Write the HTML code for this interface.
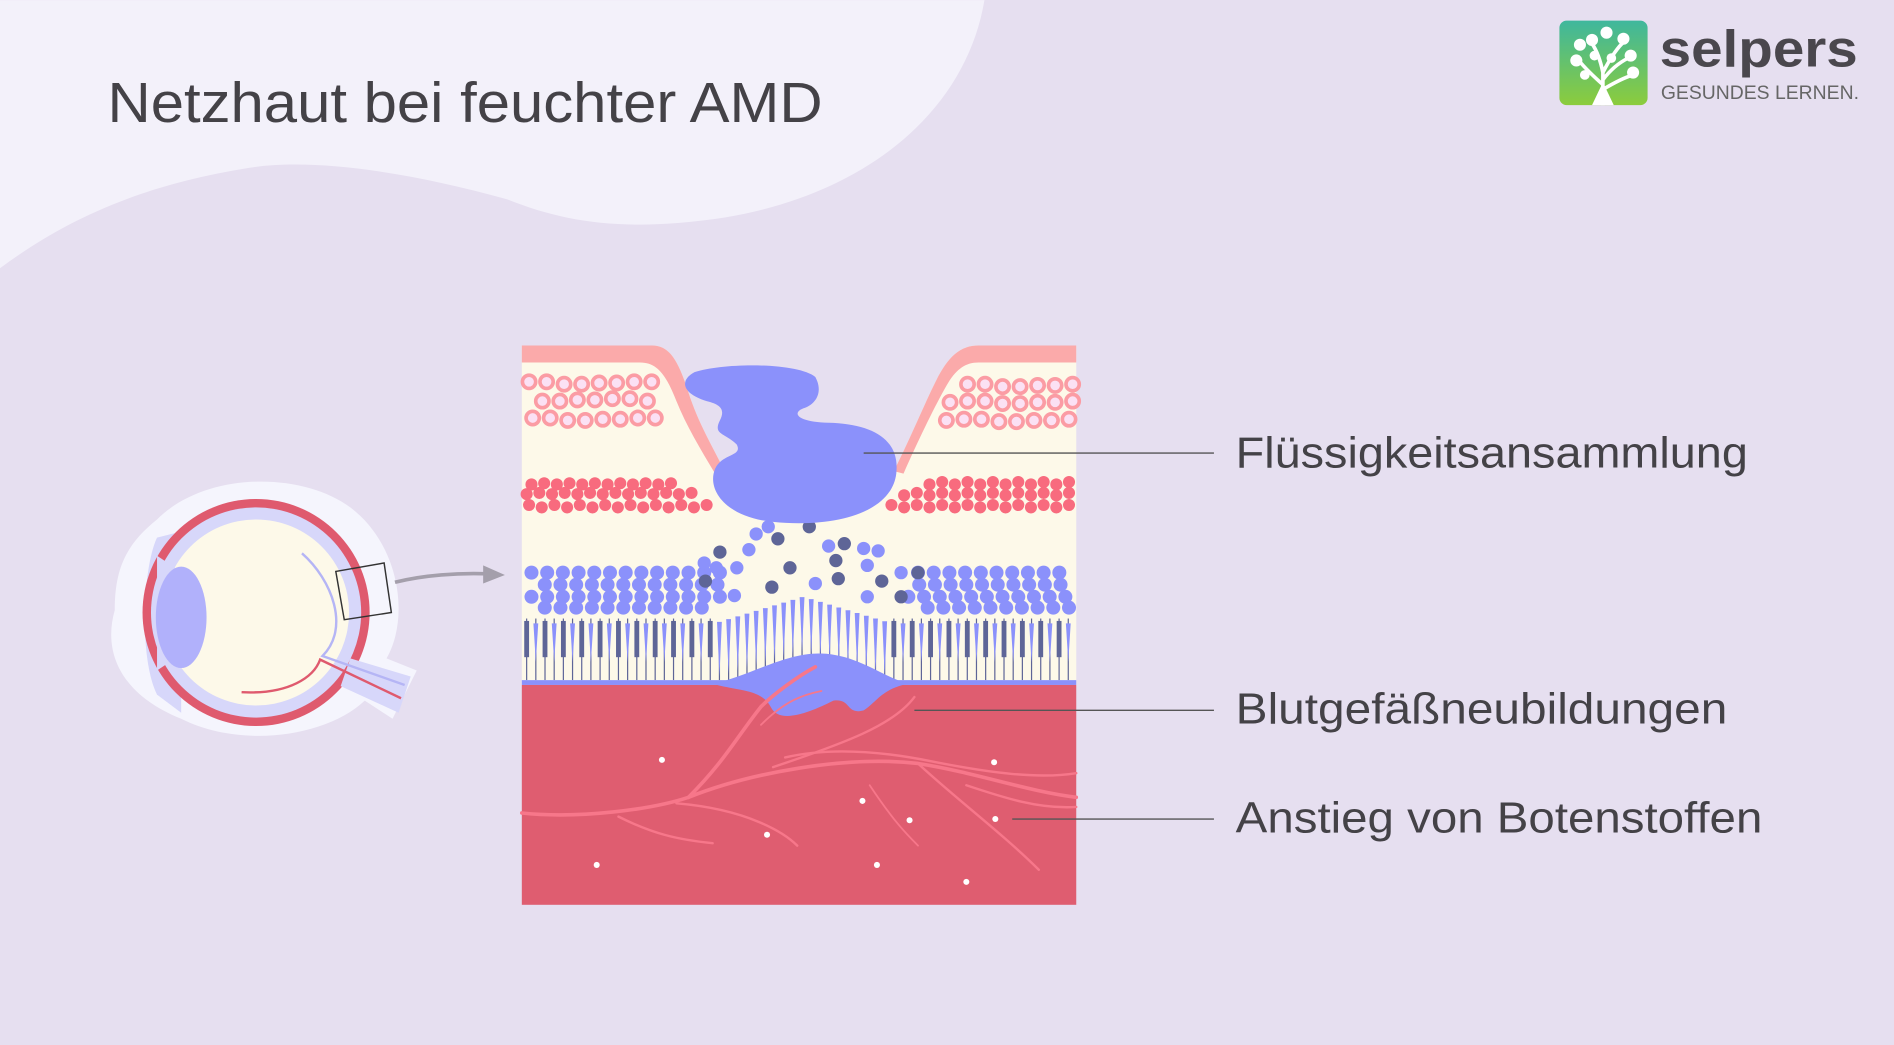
<!DOCTYPE html>
<html><head><meta charset="utf-8"><style>
html,body{margin:0;padding:0;background:#e6dff0;}
svg{display:block}
</style></head><body>
<svg id="s" width="1894" height="1045" viewBox="0 0 1568 865" xmlns="http://www.w3.org/2000/svg">
<rect width="1568" height="865" fill="#e6dff0"/>
<path d="M0 0 H815 C800 90 720 160 600 180 C520 192 470 185 420 165 C330 140 250 130 200 140 C110 155 50 185 0 222 Z" fill="#f3f1fa"/>
<text x="89" y="101" font-family="Liberation Sans, sans-serif" font-size="47" fill="#444247" textLength="592" lengthAdjust="spacingAndGlyphs">Netzhaut bei feuchter AMD</text>
<defs><linearGradient id="lg" x1="0" y1="0" x2="0" y2="1"><stop offset="0" stop-color="#3fb79d"/><stop offset="1" stop-color="#8ccc3c"/></linearGradient></defs>
<rect x="1291" y="17" width="73" height="70" rx="6" fill="url(#lg)"/>
<g stroke="#fff" stroke-width="3" fill="none"><path d="M1327 87 V60 M1327 70 C1318 62 1312 56 1307 50 M1327 66 C1333 58 1340 52 1348 48 M1327 60 C1325 50 1322 42 1318 36 M1327 60 C1333 48 1340 38 1345 34 M1327 74 C1337 68 1345 64 1352 62"/></g>
<g fill="#fff"><circle cx="1305" cy="50" r="5"/><circle cx="1308" cy="37" r="5"/><circle cx="1318" cy="33" r="5"/><circle cx="1330" cy="27" r="5"/><circle cx="1344" cy="32" r="5"/><circle cx="1350" cy="46" r="5"/><circle cx="1352" cy="60" r="5"/><circle cx="1320" cy="46" r="4"/><circle cx="1334" cy="48" r="4"/><circle cx="1312" cy="62" r="4"/><path d="M1318 87 L1327 68 L1336 87Z"/></g>
<text x="1374" y="55" font-family="Liberation Sans, sans-serif" font-weight="bold" font-size="43" fill="#4a474d" textLength="164" lengthAdjust="spacingAndGlyphs">selpers</text>
<text x="1375" y="82" font-family="Liberation Sans, sans-serif" font-size="16" fill="#666" textLength="164" lengthAdjust="spacingAndGlyphs">GESUNDES LERNEN.</text>
<path d="M130 430 C170 390 250 390 290 420 C330 450 340 510 320 545 L345 555 L325 595 L302 580 C270 610 200 620 150 595 C100 575 85 540 95 505 C95 470 105 450 130 430Z" fill="#f5f5fd"/>
<path d="M130 445 C118 470 115 545 130 575 L150 590 L150 440Z" fill="#d7d7fa"/>
<circle cx="212" cy="507" r="94" fill="#df5a6e"/>
<circle cx="212" cy="507" r="87" fill="#d7d7fa"/>
<circle cx="212" cy="507" r="77" fill="#fdf9e9"/>
<path d="M130 460 L145 470 L145 545 L130 555 Z" fill="#d7d7fa"/>
<path d="M290 545 L340 560 L330 590 L282 568Z" fill="#d7d7fa"/>
<ellipse cx="150" cy="511" rx="21" ry="42" fill="#b1b1fb"/>
<path d="M250 458 C275 480 290 520 267 543 L335 567" stroke="#b5b5f5" stroke-width="2" fill="none"/>
<path d="M200 573 C240 575 260 560 265 546 L332 578" stroke="#df5a6e" stroke-width="2" fill="none"/>
<path d="M278 473 L318 466 L324 507 L285 513Z" fill="none" stroke="#333" stroke-width="1.2"/>
<path d="M327 482 C350 476 380 474 405 475" stroke="#a49fab" stroke-width="3" fill="none"/>
<path d="M400 468 L418 476 L400 483Z" fill="#a49fab"/>
<rect x="432" y="286" width="459" height="282" fill="#fdf9e9"/>
<path d="M540 286 C555 286 562 300 570 325 C578 350 590 370 600 390 L740 390 C755 360 765 335 775 315 C785 295 795 286 810 286 Z" fill="#e6dff0"/>
<path d="M432 286 H540 C555 286 562 300 570 325 C578 350 590 370 600 390 L592 392 C580 372 568 352 560 332 C552 312 545 300 530 300 H432Z" fill="#fbaaaa"/>
<path d="M891 286 H810 C795 286 785 295 775 315 C765 335 755 360 740 390 L748 392 C760 365 772 340 782 322 C790 307 798 300 810 300 H891Z" fill="#fbaaaa"/>
<g id="cells"></g>
<path d="M575 308 C600 300 660 300 675 312 C682 325 675 335 665 338 C655 342 660 350 690 350 C725 352 745 365 742 392 C738 425 690 437 640 432 C600 428 585 405 592 388 C598 375 615 378 610 368 C600 358 590 360 596 348 C600 340 598 335 585 332 C565 326 562 315 575 308Z" fill="#8b91fb"/>
<rect x="432" y="563" width="459" height="4" fill="#8b91fb"/>
<rect x="432" y="567" width="459" height="182" fill="#df5d70"/>
<path d="M590 566 C620 560 650 540 680 541 C710 542 730 560 752 566 C730 570 725 582 715 588 C700 592 705 578 690 580 C670 590 645 600 638 585 C630 570 610 572 590 566Z" fill="#8b91fb"/>
<g stroke="#f7778a" fill="none" stroke-width="3" stroke-linecap="round">
<path d="M432 673 C480 678 540 670 570 660 C620 640 700 625 760 632 C810 640 850 655 891 660"/>
<path d="M570 660 C600 630 610 610 630 585 C640 575 660 560 675 552"/>
<path d="M760 632 C790 660 830 690 860 720" stroke-width="2"/>
<path d="M640 635 C700 615 740 600 757 577" stroke-width="2"/>
<path d="M512 676 C540 690 560 695 590 698" stroke-width="2"/>
<path d="M560 665 C620 670 650 690 660 700" stroke-width="2"/>
<path d="M650 627 C680 620 720 620 770 630 C820 640 860 645 891 640" stroke-width="2"/>
<path d="M800 650 C830 660 860 670 891 668" stroke-width="2"/>
<path d="M720 650 C740 680 750 690 760 700" stroke-width="1.5"/>
<path d="M630 600 C650 580 665 575 680 572" stroke-width="1.5"/>
</g>
<g fill="#fff"><circle cx="548" cy="629" r="2.5"/><circle cx="823" cy="631" r="2.5"/><circle cx="714" cy="663" r="2.5"/><circle cx="753" cy="679" r="2.5"/><circle cx="824" cy="678" r="2.5"/><circle cx="635" cy="691" r="2.5"/><circle cx="494" cy="716" r="2.5"/><circle cx="726" cy="716" r="2.5"/><circle cx="800" cy="730" r="2.5"/></g>
<g stroke="#555" stroke-width="1.2"><line x1="715" y1="375" x2="1005" y2="375"/><line x1="757" y1="588" x2="1005" y2="588"/><line x1="838" y1="678" x2="1005" y2="678"/></g>
<g font-family="Liberation Sans, sans-serif" font-size="36" fill="#444247">
<text x="1023" y="387" textLength="424" lengthAdjust="spacingAndGlyphs">Flüssigkeitsansammlung</text>
<text x="1023" y="599" textLength="407" lengthAdjust="spacingAndGlyphs">Blutgefäßneubildungen</text>
<text x="1023" y="689" textLength="436" lengthAdjust="spacingAndGlyphs">Anstieg von Botenstoffen</text>
</g>
</svg>
<script>
(function(){
var g=document.getElementById('cells'),ns='http://www.w3.org/2000/svg';
function el(t,a){var e=document.createElementNS(ns,t);for(var k in a)e.setAttribute(k,a[k]);g.appendChild(e);}
function c(x,y,r,f){el('circle',{cx:x,cy:y,r:r,fill:f});}
function ring(x,y){el('circle',{cx:x,cy:y,r:5.5,fill:'#fbe1f4',stroke:'#fb9ca4','stroke-width':3});}
[[316,438,545],[330,445,545],[346,441,555]].forEach(function(r,i){for(var x=r[1]+(i%2)*4;x<=r[2];x+=14.5){ring(x,r[0]+(Math.round(x)%3));}});
[[318,790,888],[332,780,888],[347,770,885]].forEach(function(r,i){for(var x=r[2];x>=r[1];x-=14.5){ring(x,r[0]+(Math.round(x)%3));}});
[[399,440,560],[408,436,575],[418,438,595]].forEach(function(r){for(var x=r[1];x<=r[2];x+=10.5){c(x,r[0]+(Math.round(x)%3),5,'#f86b7e');}});
[[399,760,885],[408,745,885],[418,728,885]].forEach(function(r){for(var x=r[2];x>=r[1];x-=10.5){c(x,r[0]+(Math.round(x)%3),5,'#f86b7e');}});
[[474,440,600],[484,445,600],[494,440,600],[503,445,590]].forEach(function(r,i){for(var x=r[1]+(i%2)*6;x<=r[2];x+=13){c(x,r[0],5.8,'#8b91fb');}});
[[474,760,885],[484,755,885],[494,752,885],[503,762,885]].forEach(function(r,i){for(var x=r[1]+(i%2)*6;x<=r[2];x+=13){c(x,r[0],5.8,'#8b91fb');}});
[[636,436,'#8b91fb'],[626,442,'#8b91fb'],[644,446,'#5e6597'],[670,436,'#5e6597'],[620,455,'#8b91fb'],[596,457,'#5e6597'],[583,466,'#8b91fb'],[593,470,'#8b91fb'],[654,470,'#5e6597'],[686,452,'#8b91fb'],[699,450,'#5e6597'],[715,454,'#8b91fb'],[727,456,'#8b91fb'],[692,464,'#5e6597'],[718,468,'#8b91fb'],[584,481,'#5e6597'],[639,486,'#5e6597'],[694,479,'#5e6597'],[675,483,'#8b91fb'],[730,481,'#5e6597'],[746,474,'#8b91fb'],[760,474,'#5e6597'],[746,494,'#5e6597'],[718,494,'#8b91fb'],[610,470,'#8b91fb'],[608,493,'#8b91fb']].forEach(function(a){c(a[0],a[1],5.5,a[2]);});
for(var i=0;i<60;i++){var x=436+i*7.6;if(x>889)break;var d=Math.abs(x-665);var cen=d<70;var yt=cen?(520-(70-d)*0.3):512;
 el('line',{x1:x,y1:yt,x2:x,y2:563,stroke:'#5e6597','stroke-width':1});
 if(!cen){ if(i%2==0) el('rect',{x:x-2,y:yt+2,width:4,height:30,fill:'#5e6597'}); else el('path',{d:'M'+(x-2)+' '+(yt+4)+' L'+(x+2)+' '+(yt+4)+' L'+x+' '+(yt+36)+'Z',fill:'#8b91fb'});}
 else el('path',{d:'M'+(x-2)+' '+(yt-5)+' L'+(x+2)+' '+(yt-5)+' L'+x+' '+(yt+40)+'Z',fill:'#8b91fb'});}
})();
</script>
</body></html>
